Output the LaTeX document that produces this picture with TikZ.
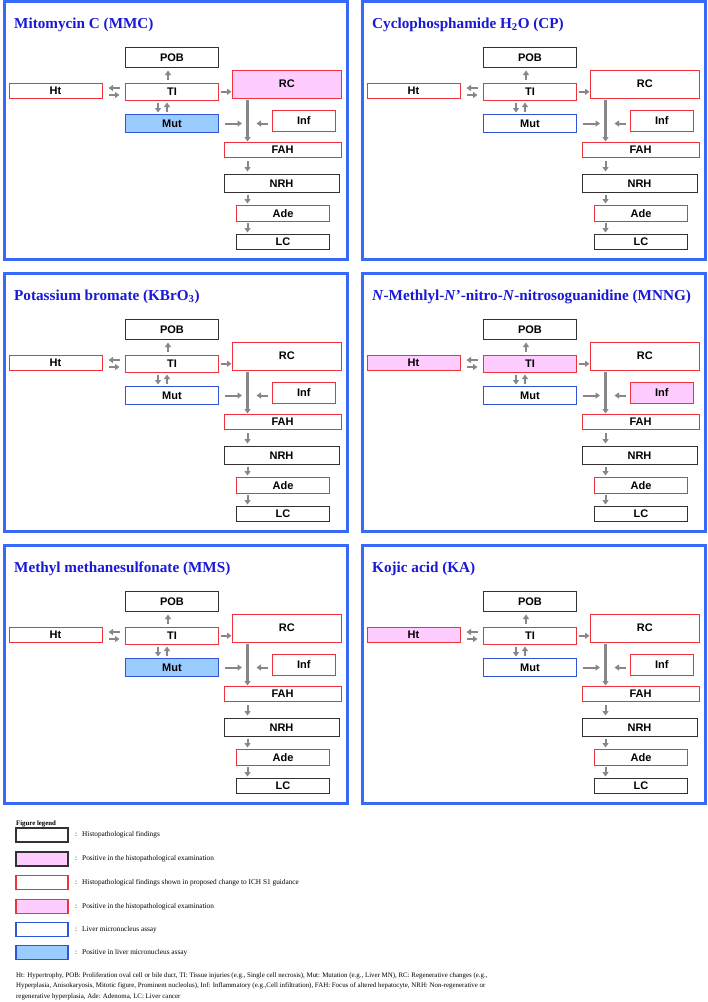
\documentclass[tikz,border=0pt]{standalone}
\usepackage{fontspec}
\setmainfont{Liberation Serif}
\setsansfont{Liberation Sans}
\usetikzlibrary{arrows.meta}
\definecolor{panelblue}{RGB}{55,105,250}
\definecolor{titleblue}{RGB}{25,25,215}
\definecolor{boxred}{RGB}{240,50,60}
\definecolor{boxblue}{RGB}{45,85,215}
\definecolor{boxblack}{RGB}{50,50,50}
\definecolor{pinkfill}{RGB}{255,204,255}
\definecolor{bluefill}{RGB}{153,204,255}
\definecolor{arrowgray}{RGB}{135,135,135}
\tikzset{
 x=1pt, y=-1pt,
 frame/.style={draw=panelblue, line width=3pt, inner sep=0},
 ttl/.style={font=\fontsize{15.2}{15.2}\selectfont\bfseries, text=titleblue, inner sep=0, anchor=base west},
 box/.style={inner sep=0, line width=1pt, font=\sffamily\bfseries\fontsize{11}{11}\selectfont},
 fblack/.style={box, draw=boxblack},
 fred/.style={box, draw=boxred},
 fredpos/.style={box, draw=boxred, fill=pinkfill},
 fblue/.style={box, draw=boxblue},
 fbluepos/.style={box, draw=boxblue, fill=bluefill},
 arr/.style={draw=arrowgray, line width=2pt, -{Triangle[length=4.5pt,width=6pt]}},
 thickarr/.style={arr, line width=3pt},
 lbox/.style={inner sep=0, line width=1.6pt, minimum width=52pt, minimum height=14pt},
 legtext/.style={inner sep=0, anchor=west, font=\fontsize{7.3}{7.3}\selectfont},
 foot/.style={inner sep=0, anchor=base west, font=\fontsize{6.9}{6.9}\selectfont},
}
\newcommand\mkbox[7]{%
 \node[#2, minimum width={(#5-(#3))*1pt}, minimum height={(#6-(#4))*1pt}] (#1) at ({(#3+#5)/2},{(#4+#6)/2}) {#7};}
\newcommand\drawpanel[9]{%
\begin{scope}[shift={(#1,#2)}]
 \node[frame, minimum width=342.5pt, minimum height=257.5pt] (#3frame) at (175.75,130.25) {};
 \node[ttl] (#3title) at (14,28) {#4};
 \mkbox{#3POB}{fblack}{125.5}{47.5}{218.5}{67}{POB}
 \mkbox{#3TI}{#6}{125.5}{83}{218.5}{100.5}{TI}
 \mkbox{#3Ht}{#5}{9}{83}{102}{98.5}{Ht}
 \mkbox{#3Mut}{#7}{125.5}{114.5}{218.5}{132.5}{Mut}
 \mkbox{#3RC}{#8}{232}{70}{341.5}{98}{RC}
 \mkbox{#3Inf}{#9}{272.5}{110}{335}{131}{Inf}
 \mkbox{#3FAH}{fred}{224}{142.5}{341}{157.5}{FAH}
 \mkbox{#3NRH}{fblack}{224}{174.5}{339}{192.5}{NRH}
 \mkbox{#3Ade}{fred}{236.5}{205.5}{329.5}{221}{Ade}
 \mkbox{#3LC}{fblack}{236.5}{234}{329.5}{249}{LC}
 \coordinate (#3ya) at (0,88);
 \coordinate (#3yb) at (0,95);
 \coordinate (#3yc) at (0,123.5);
 \coordinate (#3vx) at (247.5,0);
 \draw[arr, shorten <=3pt, shorten >=3pt] ([xshift=-4pt]#3TI.north) -- ([xshift=-4pt]#3POB.south);
 \draw[arr, shorten <=5.5pt, shorten >=6pt] (#3TI.west |- #3ya) -- (#3Ht.east |- #3ya);
 \draw[arr, shorten <=6pt, shorten >=5.5pt] (#3Ht.east |- #3yb) -- (#3TI.west |- #3yb);
 \draw[arr, shorten <=2pt, shorten >=1.5pt] ([xshift=-14pt]#3TI.south) -- ([xshift=-14pt]#3Mut.north);
 \draw[arr, shorten <=2pt, shorten >=1.5pt] ([xshift=-5pt]#3Mut.north) -- ([xshift=-5pt]#3TI.south);
 \draw[arr, shorten <=1.5pt, shorten >=0pt] (#3TI.east) -- (#3TI.east -| #3RC.west);
 \draw[thickarr, shorten <=1pt, shorten >=0.5pt] (#3RC.south -| #3vx) -- (#3FAH.north -| #3vx);
 \draw[arr, shorten <=5.5pt, shorten >=5.5pt] (#3Mut.east |- #3yc) -- (#3vx |- #3yc);
 \draw[arr, shorten <=4.5pt, shorten >=9pt] (#3Inf.west |- #3yc) -- (#3vx |- #3yc);
 \draw[arr, shorten <=2.5pt, shorten >=2.5pt] (#3FAH.south -| #3vx) -- (#3NRH.north -| #3vx);
 \draw[arr, shorten <=1.5pt, shorten >=1.5pt] (#3NRH.south -| #3vx) -- (#3Ade.north -| #3vx);
 \draw[arr, shorten <=1.5pt, shorten >=1pt] (#3Ade.south -| #3vx) -- (#3LC.north -| #3vx);
\end{scope}}
\begin{document}
\begin{tikzpicture}
\useasboundingbox (0,0) rectangle (708,1002);
\fill[white] (0,0) rectangle (708,1002);
\drawpanel{0}{0}{pa}{Mitomycin C (MMC)}{fred}{fred}{fbluepos}{fredpos}{fred}
\drawpanel{358}{0}{pb}{Cyclophosphamide H\textsubscript{2}O (CP)}{fred}{fred}{fblue}{fred}{fred}
\drawpanel{0}{272}{pc}{Potassium bromate (KBrO\textsubscript{3})}{fred}{fred}{fblue}{fred}{fred}
\drawpanel{358}{272}{pd}{\textit{N}-Methlyl-\textit{N}'-nitro-\textit{N}-nitrosoguanidine (MNNG)}{fredpos}{fredpos}{fblue}{fred}{fredpos}
\drawpanel{0}{544}{pe}{Methyl methanesulfonate (MMS)}{fred}{fred}{fbluepos}{fred}{fred}
\drawpanel{358}{544}{pf}{Kojic acid (KA)}{fredpos}{fred}{fblue}{fred}{fred}
% legend
\node[inner sep=0, anchor=base west, font=\fontsize{6.8}{6.8}\selectfont\bfseries] (legtitle) at (16,825) {Figure legend};
\node[lbox, draw=boxblack] (lb1) at (42,835) {};
\node[lbox, draw=boxblack, fill=pinkfill] (lb2) at (42,859) {};
\node[lbox, draw=boxred] (lb3) at (42,882.5) {};
\node[lbox, draw=boxred, fill=pinkfill] (lb4) at (42,906.5) {};
\node[lbox, draw=boxblue] (lb5) at (42,929.5) {};
\node[lbox, draw=boxblue, fill=bluefill] (lb6) at (42,952.5) {};
\node[legtext] (lt1) at (75,835) {:\hspace{5pt}Histopathological findings};
\node[legtext] (lt2) at (75,859) {:\hspace{5pt}Positive in the histopathological examination};
\node[legtext] (lt3) at (75,882.5) {:\hspace{5pt}Histopathological findings shown in proposed change to ICH S1 guidance};
\node[legtext] (lt4) at (75,906.5) {:\hspace{5pt}Positive in the histopathological examination};
\node[legtext] (lt5) at (75,929.5) {:\hspace{5pt}Liver micronucleus assay};
\node[legtext] (lt6) at (75,952.5) {:\hspace{5pt}Positive in liver micronucleus assay};
\node[foot] (f1) at (16,977) {Ht: Hypertrophy, POB: Proliferation oval cell or bile duct, TI: Tissue injuries (e.g., Single cell necrosis), Mut: Mutation (e.g., Liver MN), RC: Regenerative changes (e.g.,};
\node[foot] (f2) at (16,987.5) {Hyperplasia, Anisokaryosis, Mitotic figure, Prominent nucleolus), Inf: Inflammatory (e.g.,Cell infiltration), FAH: Focus of altered hepatocyte, NRH: Non-regenerative or};
\node[foot] (f3) at (16,998) {regenerative hyperplasia, Ade: Adenoma, LC: Liver cancer};
\end{tikzpicture}
\end{document}
